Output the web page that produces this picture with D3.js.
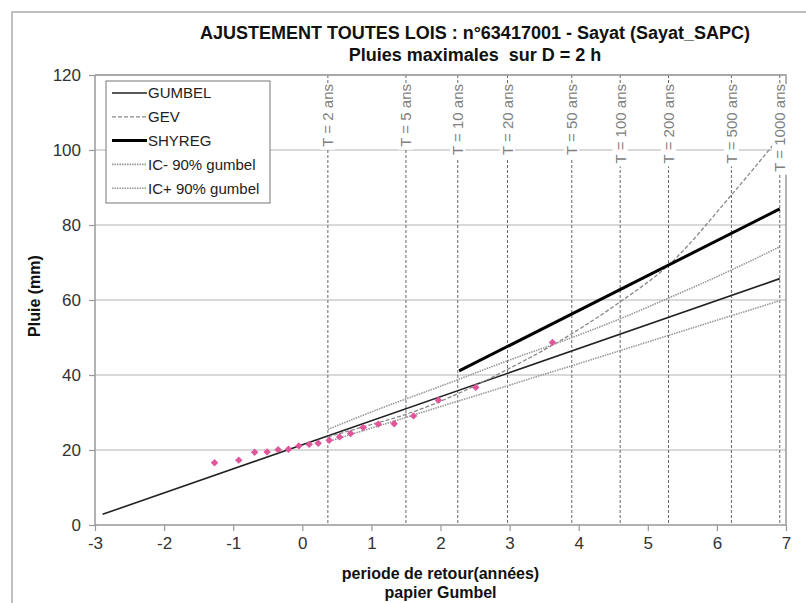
<!DOCTYPE html>
<html>
<head>
<meta charset="utf-8">
<script src="https://cdn.jsdelivr.net/npm/d3@7"></script>
<style>
  body { margin: 0; background: #fff; }
  svg { display: block; font-family: "Liberation Sans", Arial, sans-serif; }
</style>
</head>
<body>
<script>
// gumbel reduced variate on x, rain (mm) on y
const xTicks = [-3, -2, -1, 0, 1, 2, 3, 4, 5, 6, 7];
const yTicks = [0, 20, 40, 60, 80, 100, 120];

const returnPeriods = [2, 5, 10, 20, 50, 100, 200, 500, 1000];
const returnPeriodX = [0.37, 1.50, 2.25, 2.97, 3.90, 4.60, 5.30, 6.21, 6.91];

// observed maxima
const obsX = [-1.27, -0.92, -0.69, -0.51, -0.35, -0.20, -0.05, 0.10, 0.23, 0.39, 0.54, 0.70, 0.88, 1.10, 1.33, 1.61, 1.97, 2.51, 3.62];
const obsY = [16.6, 17.3, 19.4, 19.5, 20.1, 20.2, 21.1, 21.5, 21.8, 22.6, 23.5, 24.4, 26.0, 26.9, 27.0, 29.1, 33.3, 36.7, 48.7];

const gumbelX = [-2.89, 6.91];
const gumbelY = [2.85, 65.7];
const gevX = [0.37, 1.0, 1.5, 2.25, 2.97, 3.9, 4.6, 5.3, 6.21, 6.91];
const gevY = [23.5, 26.8, 29.5, 35, 41.5, 51, 59.5, 69.3, 88, 103.5];
const shyregX = [2.27, 6.91];
const shyregY = [41.1, 84.3];
const icMinusX = [0.37, 1.5, 3.0, 4.6, 6.21, 6.91];
const icMinusY = [22.2, 28.7, 37.3, 46.5, 55.8, 59.8];
const icPlusX = [0.37, 1.12, 2.0, 3.0, 3.73, 4.6, 5.3, 6.21, 6.91];
const icPlusY = [25.5, 31, 37, 44, 48.8, 55, 60.5, 68, 74.2];

const W = 806, H = 603;
const plotL = 95, plotR = 786, plotT = 75, plotB = 525;

const svg = d3.select("body").append("svg")
    .attr("width", W)
    .attr("height", H);

// outer chart border (only top & left visible)
svg.append("rect")
    .attr("x", 12).attr("y", 12)
    .attr("width", 820).attr("height", 620)
    .attr("fill", "none")
    .attr("stroke", "#aaa")
    .attr("stroke-width", 1.5);

const x = d3.scaleLinear().domain([-3, 7]).range([plotL, plotR]);
const y = d3.scaleLinear().domain([0, 120]).range([plotB, plotT]);

// horizontal grid
svg.append("g")
    .selectAll("line")
    .data(yTicks.slice(1))
    .enter().append("line")
    .attr("x1", plotL).attr("x2", plotR)
    .attr("y1", d => y(d)).attr("y2", d => y(d))
    .attr("stroke", "#b4b4b4")
    .attr("stroke-width", 1.2);

// return period verticals
svg.append("g")
    .selectAll("line")
    .data(returnPeriodX)
    .enter().append("line")
    .attr("x1", d => x(d)).attr("x2", d => x(d))
    .attr("y1", plotT).attr("y2", plotB)
    .attr("stroke", "#666")
    .attr("stroke-width", 1)
    .attr("stroke-dasharray", "3,2");

// axes (plain hyphen for negatives, like the excel export)
const yAxis = d3.axisLeft(y).tickValues(yTicks).tickSize(6).tickPadding(8);
const xAxis = d3.axisBottom(x).tickValues(xTicks).tickSize(6).tickPadding(6)
    .tickFormat(d => String(d));

const gy = svg.append("g").attr("transform", `translate(${plotL},0)`).call(yAxis);
const gx = svg.append("g").attr("transform", `translate(0,${plotB})`).call(xAxis);

[gx, gy].forEach(g => {
    g.select(".domain").attr("stroke", "#999").attr("stroke-width", 1.5);
    g.selectAll(".tick line").attr("stroke", "#999").attr("stroke-width", 1.2);
    g.selectAll(".tick text")
        .attr("fill", "#333")
        .style("font-size", "17px")
        .style("font-family", "Liberation Sans, Arial, sans-serif");
});
gx.select(".domain").attr("d", `M${plotL},0H${plotR}`);
gy.select(".domain").attr("d", `M0,${plotB}V${plotT}`);

// top & right frame of plot area
svg.append("path")
    .attr("d", `M${plotL},${plotT}H${plotR}V${plotB}`)
    .attr("fill", "none")
    .attr("stroke", "#999")
    .attr("stroke-width", 1.5);

const line = d3.line().x(d => x(d[0])).y(d => y(d[1]));
const curve = d3.line().x(d => x(d[0])).y(d => y(d[1])).curve(d3.curveMonotoneX);
const zip = (a, b) => a.map((v, i) => [v, b[i]]);

const series = [
    { name: "GUMBEL", pts: zip(gumbelX, gumbelY), stroke: "#222", width: 1.6, dash: null, gen: line },
    { name: "GEV", pts: zip(gevX, gevY), stroke: "#888", width: 1.3, dash: "4,2", gen: curve },
    { name: "SHYREG", pts: zip(shyregX, shyregY), stroke: "#000", width: 3, dash: null, gen: line },
    { name: "IC- 90% gumbel", pts: zip(icMinusX, icMinusY), stroke: "#999", width: 1.6, dash: "1.5,1", gen: curve },
    { name: "IC+ 90% gumbel", pts: zip(icPlusX, icPlusY), stroke: "#999", width: 1.6, dash: "1.5,1", gen: curve }
];

svg.append("g")
    .selectAll("path")
    .data(series)
    .enter().append("path")
    .attr("d", d => d.gen(d.pts))
    .attr("fill", "none")
    .attr("stroke", d => d.stroke)
    .attr("stroke-width", d => d.width)
    .attr("stroke-dasharray", d => d.dash);

// observations
svg.append("g")
    .selectAll("path")
    .data(zip(obsX, obsY))
    .enter().append("path")
    .attr("d", d3.symbol().type(d3.symbolSquare).size(28))
    .attr("transform", d => `translate(${x(d[0])},${y(d[1])}) rotate(45)`)
    .attr("fill", "#e0569b");

// T = ... labels, rotated with white background
const tLab = svg.append("g")
    .selectAll("g")
    .data(returnPeriods)
    .enter().append("g")
    .attr("transform", (d, i) => `translate(${x(returnPeriodX[i])},${plotT + 9}) rotate(-90)`);

tLab.append("text")
    .attr("text-anchor", "end")
    .attr("dy", "0.36em")
    .attr("fill", "#808080")
    .style("font-size", "15px")
    .text(d => `T = ${d} ans`);

tLab.each(function () {
    const g = d3.select(this);
    const bb = g.select("text").node().getBBox();
    g.insert("rect", "text")
        .attr("x", bb.x - 3).attr("y", bb.y + 1)
        .attr("width", bb.width + 3).attr("height", bb.height - 2)
        .attr("fill", "#fff");
});

// legend
const lg = svg.append("g").attr("transform", "translate(106,81)");
lg.append("rect")
    .attr("width", 164).attr("height", 122)
    .attr("fill", "#fff")
    .attr("stroke", "#777")
    .attr("stroke-width", 1);

const item = lg.selectAll(".item")
    .data(series)
    .enter().append("g")
    .attr("class", "item")
    .attr("transform", (d, i) => `translate(0,${12 + i * 23.8})`);

item.append("line")
    .attr("x1", 6).attr("x2", 41)
    .attr("stroke", d => d.stroke)
    .attr("stroke-width", d => d.width)
    .attr("stroke-dasharray", d => d.dash);

item.append("text")
    .attr("x", 42)
    .attr("dy", "0.36em")
    .attr("fill", "#222")
    .style("font-size", "15px")
    .text(d => d.name);

// titles
svg.append("text")
    .attr("x", 475).attr("y", 39)
    .attr("text-anchor", "middle")
    .style("font-size", "18px").style("font-weight", "bold")
    .attr("fill", "#111")
    .text("AJUSTEMENT TOUTES LOIS : n°63417001 - Sayat (Sayat_SAPC)");
svg.append("text")
    .attr("x", 475).attr("y", 61)
    .attr("text-anchor", "middle")
    .style("font-size", "18px").style("font-weight", "bold")
    .attr("fill", "#111")
    .attr("xml:space", "preserve")
    .text("Pluies maximales  sur D = 2 h");

svg.append("text")
    .attr("transform", "translate(40,296) rotate(-90)")
    .attr("text-anchor", "middle")
    .style("font-size", "16px").style("font-weight", "bold")
    .attr("fill", "#111")
    .text("Pluie (mm)");

svg.append("text")
    .attr("x", (plotL + plotR) / 2).attr("y", 579)
    .attr("text-anchor", "middle")
    .style("font-size", "16px").style("font-weight", "bold")
    .attr("fill", "#111")
    .text("periode de retour(années)");
svg.append("text")
    .attr("x", (plotL + plotR) / 2).attr("y", 598)
    .attr("text-anchor", "middle")
    .style("font-size", "16px").style("font-weight", "bold")
    .attr("fill", "#111")
    .text("papier Gumbel");
</script>
</body>
</html>
